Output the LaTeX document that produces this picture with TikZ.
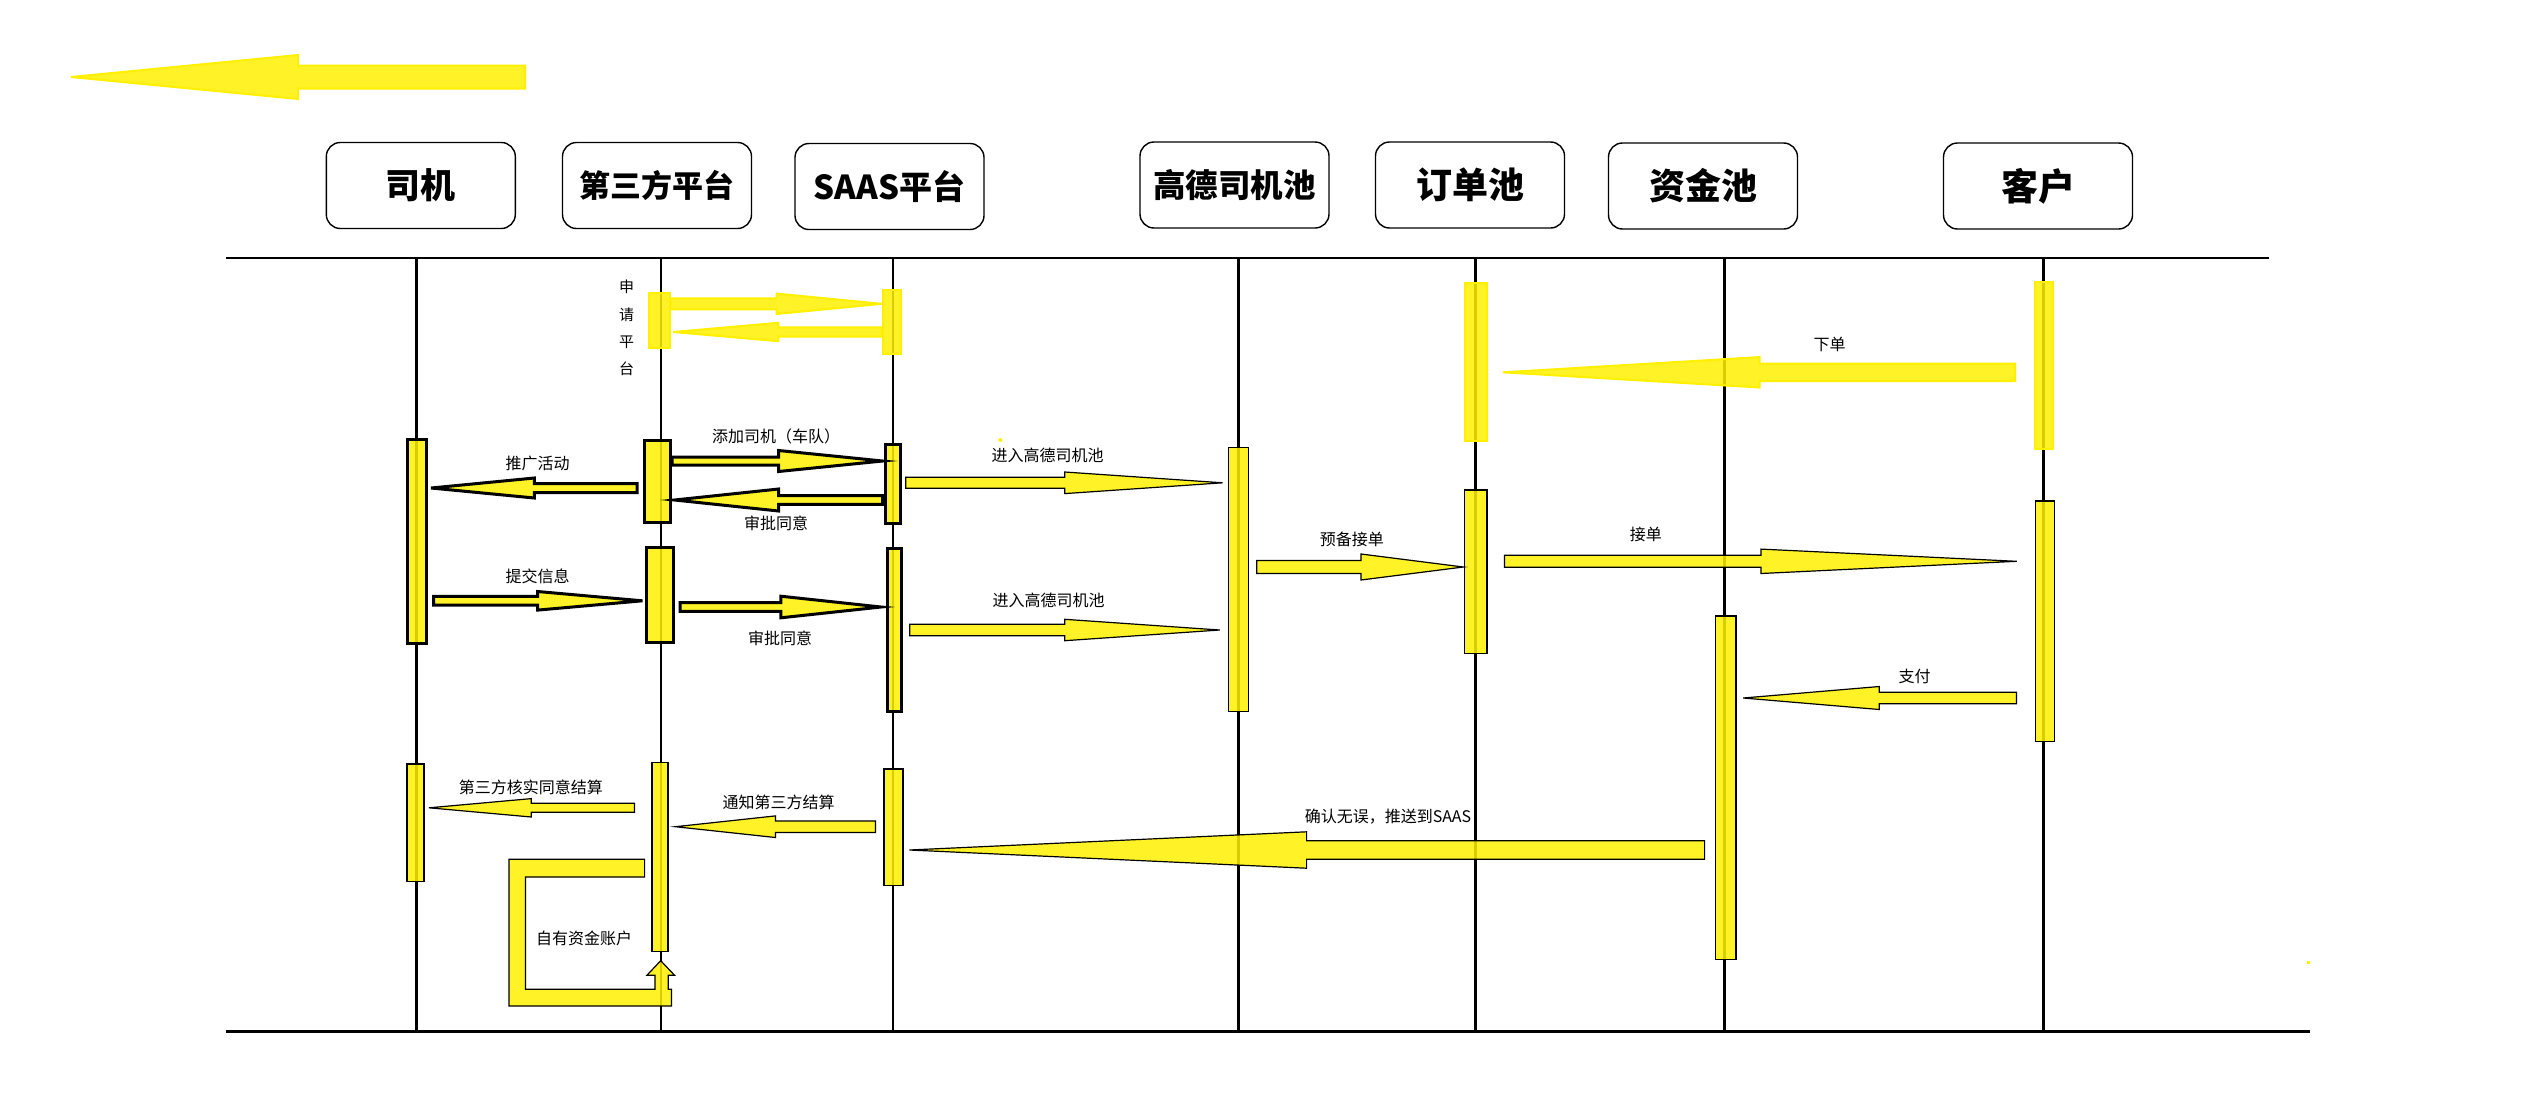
\documentclass[tikz,border=0pt]{standalone}
\usepackage{fontspec}
\newfontfamily\cjk{Noto Sans CJK SC}
\definecolor{yel}{RGB}{255,240,0}
\newcommand{\blkarrow}[7]{%
  \draw[#1] (#2,#5-#6) -- (#3,#5-#6) -- (#3,#5-#7) -- (#4,#5) -- (#3,#5+#7) -- (#3,#5+#6) -- (#2,#5+#6) -- cycle;}
\tikzset{
  hdr/.style={draw=black, line width=1.4pt, rounded corners=14pt, minimum width=189pt, minimum height=86pt, inner sep=0pt},
  barA/.style={rectangle, fill=yel, fill opacity=0.85, draw=yel, line width=2pt, inner sep=0pt},
  barB/.style={rectangle, fill=yel, fill opacity=0.85, draw=black, line width=3pt, inner sep=0pt},
  barC/.style={rectangle, fill=yel, fill opacity=0.85, draw=black, line width=1.3pt, inner sep=0pt},
  arrA/.style={fill=yel, fill opacity=0.85, draw=yel, line width=2pt, line join=miter},
  arrB/.style={fill=yel, fill opacity=0.85, draw=black, line width=3pt, line join=miter},
  arrC/.style={fill=yel, fill opacity=0.85, draw=black, line width=1.2pt, line join=miter},
  lbl/.style={font=\cjk\fontsize{16}{18}\selectfont, inner sep=0pt, text=black},
  life/.style={line width=2.5pt, black},
}
\begin{document}
\begin{tikzpicture}[x=1pt,y=-1pt]
\useasboundingbox (0,0) rectangle (2523,1114);
\fill[white] (0,0) rectangle (2523,1114);

% big arrow top-left
\blkarrow{arrA}{525}{298}{71}{77}{11.5}{22}

% headers
\node[hdr, font=\cjk\bfseries\fontsize{35}{40}\selectfont] (h1) at (420.8,185.5) {司机};
\node[hdr, font=\cjk\bfseries\fontsize{31}{36}\selectfont] (h2) at (657,185.5) {第三方平台};
\node[hdr, font=\cjk\bfseries\fontsize{33}{38}\selectfont] (h3) at (889.5,186.5) {SAAS平台};
\node[hdr, font=\cjk\bfseries\fontsize{32.5}{38}\selectfont] (h4) at (1234.5,185) {高德司机池};
\node[hdr, font=\cjk\bfseries\fontsize{36}{40}\selectfont] (h5) at (1470,185) {订单池};
\node[hdr, font=\cjk\bfseries\fontsize{36}{40}\selectfont] (h6) at (1703,186) {资金池};
\node[hdr, font=\cjk\bfseries\fontsize{37}{40}\selectfont] (h7) at (2038,186) {客户};

% frame lines
\coordinate (tl) at (226,258);
\coordinate (tr) at (2269,258);
\coordinate (bl) at (226,1031.5);
\coordinate (br) at (2310,1031.5);
\draw[line width=2pt] (tl) -- (tr);
\draw[line width=3.5pt] (bl) -- (br);

% lifelines
\foreach \n/\x in {1/416.5,2/661,3/893,4/1238.5,5/1475.5,6/1724.7,7/2043.5}{
  \coordinate (lt\n) at (\x,258);
  \coordinate (lb\n) at (\x,1031.5);
  \draw[life] (lt\n) -- (lb\n);
}

% activation bars
\node[barA, minimum width=20.4pt, minimum height=55.6pt] (b2a) at (659.5,320.5) {};
\node[barA, minimum width=17.4pt, minimum height=64pt] (b3a) at (892,322.3) {};
\node[barB, minimum width=19.2pt, minimum height=204.3pt] (b1a) at (417,541.3) {};
\node[barB, minimum width=25.6pt, minimum height=81.7pt] (b2b) at (657.6,481.3) {};
\node[barB, minimum width=14.8pt, minimum height=79.3pt] (b3b) at (893.3,483.8) {};
\node[barB, minimum width=26.6pt, minimum height=95pt] (b2c) at (659.8,594.7) {};
\node[barB, minimum width=14pt, minimum height=163.5pt] (b3c) at (894,630) {};
\node[barC, minimum width=20.5pt, minimum height=264.3pt] (b4a) at (1238.5,579.5) {};
\node[barA, minimum width=21.7pt, minimum height=157.7pt] (b5a) at (1475.9,361.9) {};
\node[barA, minimum width=18.5pt, minimum height=167pt] (b7a) at (2043.8,365.5) {};
\node[barC, minimum width=22.3pt, minimum height=163.7pt] (b5b) at (1475.8,571.8) {};
\node[barC, minimum width=18.7pt, minimum height=240.7pt] (b7b) at (2044.8,621.3) {};
\node[barC, minimum width=20.8pt, minimum height=343.7pt] (b6a) at (1725.7,787.8) {};
\node[barC, minimum width=17pt, minimum height=117.7pt] (b1b) at (415.5,822.8) {};
\node[barC, minimum width=16.2pt, minimum height=189.3pt] (b2d) at (660,857) {};
\node[barC, minimum width=18.8pt, minimum height=116.4pt] (b3d) at (893.5,827.2) {};

% message arrows
\blkarrow{arrA}{670.7}{776.7}{881.7}{303.8}{5.5}{10.2}
\blkarrow{arrA}{882}{778.3}{673.3}{332}{4.7}{9.2}
\blkarrow{arrA}{2015}{1759.6}{1503}{372.3}{8.7}{15.2}
\blkarrow{arrB}{672}{778.6}{882.6}{461}{4}{10.5}
\blkarrow{arrB}{637}{534.4}{431}{488}{4.5}{10}
\blkarrow{arrB}{882.6}{778.6}{674.5}{500}{4.4}{11}
\blkarrow{arrB}{433.5}{537.5}{642.4}{600.8}{4.4}{9.3}
\blkarrow{arrB}{680}{780.8}{881}{607}{4.4}{10.8}
\blkarrow{arrC}{905.7}{1064.7}{1222.6}{482.8}{5.5}{10.8}
\blkarrow{arrC}{909.7}{1064.7}{1219.7}{630}{5.7}{10.7}
\blkarrow{arrC}{1256.7}{1361}{1463.3}{567}{6.5}{13}
\blkarrow{arrC}{1504.5}{1761}{2016.7}{561.3}{6}{12.2}
\blkarrow{arrC}{2016.4}{1879.3}{1743.2}{698}{5.7}{11.5}
\blkarrow{arrC}{634.4}{531.3}{429}{807.8}{4.5}{9.2}
\blkarrow{arrC}{875.4}{775.4}{675.4}{826.7}{5.7}{10.8}
\blkarrow{arrC}{1704.6}{1306.6}{909.3}{850}{9.2}{18.2}

% self loop
\draw[arrC] (644.6,859.3) -- (509,859.3) -- (509,1006) -- (671.4,1006) -- (671.4,989.3)
  -- (668.3,989.3) -- (668.3,975.3) -- (674.6,975.3) -- (660.7,960.7) -- (646.9,975.3)
  -- (655,975.3) -- (655,989.3) -- (525.4,989.3) -- (525.4,877) -- (644.6,877) -- cycle;

% stray dots
\fill[yel] (1000.4,440) circle (2pt);
\fill[yel] (2307,960.5) rectangle (2310,963.5);

% labels
\node[lbl, align=center, font=\cjk\fontsize{15}{27.3}\selectfont] (t0) at (626.7,328.2) {申\\请\\平\\台};
\node[lbl] (t1) at (776,436) {添加司机（车队）};
\node[lbl] (t2) at (537.5,463.3) {推广活动};
\node[lbl] (t3) at (776,523.3) {审批同意};
\node[lbl] (t4) at (537.5,576.7) {提交信息};
\node[lbl] (t5) at (780,638.3) {审批同意};
\node[lbl] (t6) at (1047.5,455) {进入高德司机池};
\node[lbl] (t7) at (1048.6,600) {进入高德司机池};
\node[lbl] (t8) at (1351.8,539) {预备接单};
\node[lbl] (t9) at (1645.8,534) {接单};
\node[lbl] (t10) at (1829.5,344) {下单};
\node[lbl] (t11) at (1914.5,676) {支付};
\node[lbl] (t12) at (530.8,787.3) {第三方核实同意结算};
\node[lbl] (t13) at (778.6,802.3) {通知第三方结算};
\node[lbl] (t14) at (1388,816.7) {确认无误，推送到SAAS};
\node[lbl] (t15) at (584,938.3) {自有资金账户};
\end{tikzpicture}
\end{document}
